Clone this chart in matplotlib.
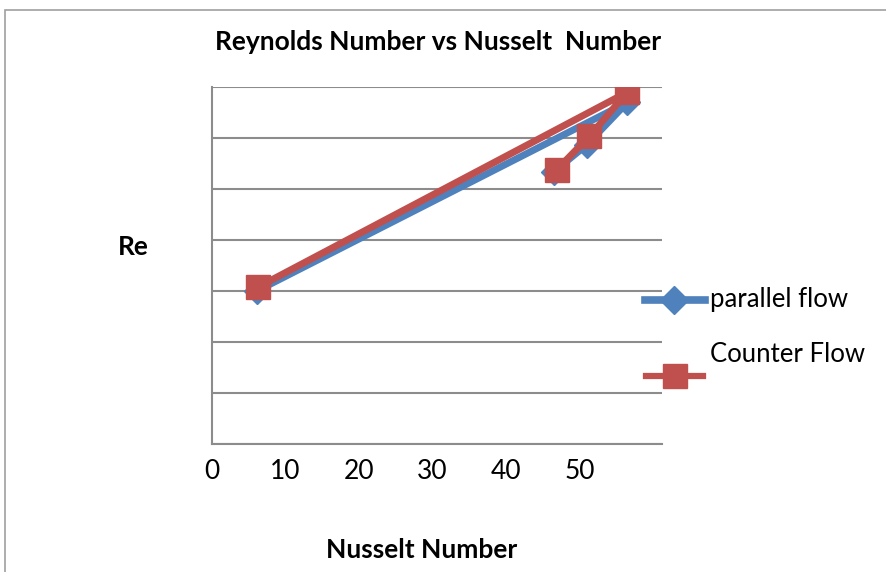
import matplotlib
matplotlib.use("Agg")
import matplotlib.pyplot as plt
from matplotlib.lines import Line2D
from matplotlib.patches import Rectangle

# Data (series order as plotted)
nusselt_parallel = [46.5, 51.0, 56.5, 6.1]
re_parallel = [5.34, 5.87, 6.70, 3.00]
nusselt_counter = [46.9, 51.3, 56.5, 6.3]
re_counter = [5.38, 6.03, 6.90, 3.08]
x_ticks = [0, 10, 20, 30, 40, 50]
series_labels = ["parallel flow", "Counter Flow"]

BLUE = "#4F81BD"
RED = "#C0504D"
GRID = "#8C8C8C"
FONT = "Lato"

W, H = 887, 572
fig = plt.figure(figsize=(W / 100, H / 100), dpi=100)
ax = fig.add_axes([212 / W, (H - 444) / H, (662 - 212) / W, (444 - 87) / H])

ax.plot(nusselt_parallel, re_parallel, color=BLUE, lw=5, marker="D",
        ms=13, mfc=BLUE, mec=BLUE, zorder=3)
ax.plot(nusselt_counter, re_counter, color=RED, lw=5, marker="s",
        ms=17, mfc=RED, mec=RED, zorder=4)

ax.set_xlim(0, 61.2)
ax.set_ylim(0, 7)
ax.set_yticks(range(0, 8))
ax.set_yticklabels([])
ax.set_xticks(x_ticks)
ax.set_xticklabels([str(t) for t in x_ticks], fontsize=19, family=FONT)
ax.tick_params(length=0, pad=11)
ax.tick_params(axis="y", length=0)
ax.grid(axis="y", color=GRID, lw=1.5)
ax.set_axisbelow(True)
for side in ["top", "right"]:
    ax.spines[side].set_visible(False)
for side in ["left", "bottom"]:
    ax.spines[side].set_color(GRID)
    ax.spines[side].set_linewidth(1.5)

# titles
fig.text(438 / W, 1 - 42 / H, "Reynolds Number vs Nusselt  Number",
         ha="center", va="center", fontsize=19, fontweight="bold", family=FONT)
fig.text(133 / W, 1 - 247 / H, "Re", ha="center", va="center",
         fontsize=19, fontweight="bold", family=FONT)
fig.text(422 / W, 1 - 550 / H, "Nusselt Number", ha="center", va="center",
         fontsize=19, fontweight="bold", family=FONT)

# legend drawn by hand (Excel puts the red key below its label)
fig.add_artist(Line2D([645 / W, 705 / W], [1 - 300 / H] * 2, color=BLUE, lw=5.5,
                      transform=fig.transFigure))
fig.add_artist(Line2D([674 / W], [1 - 300 / H], marker="D", ms=14, color=BLUE,
                      transform=fig.transFigure))
fig.add_artist(Line2D([646 / W, 703 / W], [1 - 376 / H] * 2, color=RED, lw=4.5,
                      transform=fig.transFigure))
fig.add_artist(Line2D([675 / W], [1 - 376 / H], marker="s", ms=17, color=RED,
                      transform=fig.transFigure))
fig.text(710 / W, 1 - 300 / H, series_labels[0], ha="left", va="center",
         fontsize=18.5, family=FONT)
fig.text(710 / W, 1 - 355 / H, series_labels[1], ha="left", va="center",
         fontsize=18.5, family=FONT)

# chart frame
fig.add_artist(Rectangle((5 / W, -0.05), 1.0, 1 - 10 / H + 0.05, fill=False,
                         ec="#A0A0A0", lw=1.2, transform=fig.transFigure))

fig.savefig("out.png", dpi=100)
